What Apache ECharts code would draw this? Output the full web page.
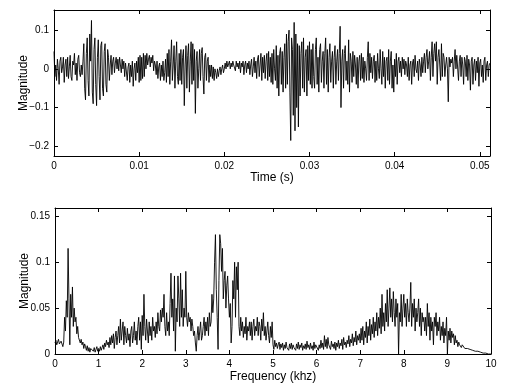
<!DOCTYPE html>
<html>
<head>
<meta charset="utf-8">
<script src="https://cdn.jsdelivr.net/npm/echarts@6/dist/echarts.min.js"></script>
<style>
    html, body { margin: 0; padding: 0; background: #fff; }
    #main { width: 506px; height: 384px; }
</style>
</head>
<body>
<div id="main"></div>
<script>
    // 时域信号, 采样间隔 0.0001 s
    var timeStep = 0.0001;
    var signal = [
        0.045, -0.02, 0.01, -0.03, 0.025, 0.0, -0.04, 0.02, 0.03, -0.01, 0.005, 0.03, -0.035, 0.01, 0.025, -0.02,
        0.03, -0.025, 0.005, 0.035, -0.02, -0.03, 0.02, 0.01, 0.04, -0.015, 0.015, -0.03, 0.025, 0.035, -0.01, -0.02,
        0.01, -0.015, 0.02, 0.065, -0.05, -0.08, 0.04, 0.08, -0.03, -0.07, 0.09, 0.02, 0.125, -0.06, -0.09, 0.05,
        0.08, -0.04, -0.095, 0.03, 0.075, -0.02, -0.08, 0.06, 0.07, -0.05, -0.07, 0.045, 0.065, -0.04, -0.06, 0.05,
        0.03, -0.03, 0.01, 0.035, -0.015, 0.02, 0.03, -0.01, 0.015, 0.03, 0.0, 0.025, -0.005, 0.03, 0.01, -0.01,
        0.025, 0.0, 0.02, -0.02, 0.015, 0.02, -0.03, 0.005, 0.015, -0.035, 0.01, -0.02, 0.02, -0.045, 0.0, 0.015,
        -0.03, 0.02, -0.01, 0.03, -0.035, 0.035, -0.03, 0.03, -0.025, 0.04, -0.02, 0.035, 0.0, 0.04, 0.01, 0.025,
        0.035, 0.005, 0.03, 0.015, 0.035, -0.005, 0.02, 0.01, -0.015, 0.02, -0.025, 0.005, 0.015, -0.03, 0.01, -0.02,
        0.02, -0.03, -0.01, 0.025, -0.035, 0.04, -0.02, 0.05, -0.04, 0.02, 0.075, -0.03, 0.01, 0.06, -0.05, 0.02,
        0.07, -0.02, -0.04, 0.04, -0.03, 0.05, -0.04, 0.03, 0.05, -0.095, 0.01, 0.06, -0.05, 0.035, 0.065, -0.06,
        0.02, 0.07, -0.04, 0.065, -0.03, 0.05, -0.115, 0.02, 0.045, -0.05, 0.0, 0.05, -0.03, 0.04, 0.055, -0.02,
        -0.065, 0.03, 0.04, -0.03, 0.02, 0.03, -0.035, 0.01, -0.02, 0.01, -0.025, 0.005, -0.03, 0.0, -0.01, -0.025,
        0.0, -0.02, -0.005, 0.005, -0.015, 0.0, 0.01, -0.01, 0.0, 0.015, 0.0, 0.02, 0.005, 0.01, 0.02, 0.0,
        0.015, 0.005, 0.02, 0.01, 0.015, -0.005, 0.02, 0.005, 0.015, 0.0, 0.02, -0.01, 0.015, 0.005, 0.02, -0.015,
        0.01, 0.02, -0.01, 0.015, 0.0, 0.02, -0.015, 0.01, 0.025, -0.02, 0.005, 0.03, -0.01, 0.02, -0.025, 0.025,
        0.035, -0.02, 0.01, 0.04, -0.03, 0.03, -0.01, 0.035, -0.025, 0.02, 0.04, -0.03, 0.045, -0.02, 0.03, -0.035,
        0.04, -0.04, 0.05, 0.0, -0.03, 0.06, -0.05, 0.035, -0.07, 0.04, 0.055, -0.04, 0.045, -0.06, 0.03, 0.065,
        -0.05, 0.09, -0.04, 0.07, 0.1, -0.06, -0.185, 0.08, 0.05, -0.12, 0.12, -0.16, 0.09, -0.1, 0.065, -0.15,
        0.06, -0.07, 0.04, 0.07, -0.05, 0.08, -0.06, 0.03, 0.05, -0.07, 0.06, -0.03, 0.07, -0.04, 0.05, -0.05,
        0.065, -0.02, -0.05, 0.05, 0.08, -0.04, 0.03, -0.06, 0.05, 0.065, -0.035, 0.02, 0.045, -0.05, 0.04, 0.08,
        -0.04, 0.05, -0.06, 0.03, 0.065, -0.035, 0.02, 0.045, -0.05, 0.03, 0.06, -0.04, 0.02, 0.05, -0.03, 0.04,
        0.11, -0.1, 0.02, 0.05, -0.05, 0.04, 0.06, -0.03, 0.02, -0.04, 0.075, -0.06, 0.04, 0.02, -0.035, 0.045,
        -0.02, 0.035, 0.01, -0.04, 0.03, -0.05, 0.02, 0.035, -0.03, 0.04, -0.025, 0.03, -0.035, 0.02, 0.0, -0.03,
        0.03, 0.07, -0.03, 0.04, -0.01, 0.03, -0.025, 0.02, 0.035, -0.035, 0.02, -0.03, 0.04, 0.0, -0.025, 0.05,
        0.0, -0.04, 0.045, -0.02, 0.03, -0.05, 0.02, 0.03, -0.03, 0.05, -0.04, 0.02, 0.045, -0.05, 0.01, -0.06,
        0.025, -0.02, 0.04, -0.04, 0.02, 0.03, -0.01, 0.02, -0.02, 0.03, 0.0, 0.025, -0.015, 0.02, 0.01, -0.02,
        0.03, -0.03, 0.01, 0.02, -0.04, 0.015, 0.025, -0.02, 0.035, 0.0, -0.01, 0.02, -0.03, 0.025, 0.01, -0.02,
        0.03, -0.01, 0.02, 0.04, -0.01, 0.03, 0.05, 0.0, 0.02, 0.045, -0.03, 0.03, 0.07, -0.02, 0.04, 0.065,
        0.02, 0.07, -0.04, 0.03, 0.05, 0.01, -0.03, 0.065, -0.02, 0.04, 0.03, -0.02, 0.01, 0.03, 0.0, -0.085,
        0.03, 0.005, 0.025, 0.015, 0.03, -0.02, 0.02, 0.05, 0.0, 0.035, 0.04, -0.03, 0.02, 0.035, -0.02, 0.03,
        0.01, -0.04, 0.03, 0.02, -0.02, 0.035, -0.03, 0.025, 0.01, -0.055, 0.02, 0.03, -0.04, 0.01, 0.025, -0.03,
        0.02, -0.01, 0.03, -0.045, 0.015, 0.025, -0.02, 0.01, -0.035, 0.02, 0.03, -0.03, 0.01, 0.02, -0.02, 0.01,
        0.015
    ];

    // 频谱, 频率间隔 0.02 khz
    var freqStep = 0.02;
    var spectrum = [
        0.012, 0.015, 0.01, 0.013, 0.016, 0.011, 0.009, 0.014, 0.012, 0.008, 0.013, 0.04, 0.025, 0.058, 0.04, 0.115, 0.06, 0.01, 0.065, 0.04, 0.073, 0.03, 0.05, 0.035, 0.04,
        0.022, 0.03, 0.018, 0.02, 0.012, 0.016, 0.01, 0.013, 0.006, 0.011, 0.008, 0.004, 0.009, 0.003, 0.007, 0.002, 0.006, 0.004, 0.008, 0.003, 0.007, 0.002, 0.005, 0.008, 0.003,
        0.006, 0.003, 0.008, 0.004, 0.007, 0.01, 0.005, 0.012, 0.008, 0.015, 0.01, 0.013, 0.007, 0.018, 0.01, 0.02, 0.012, 0.022, 0.006, 0.018, 0.025, 0.01, 0.02, 0.03, 0.012,
        0.038, 0.015, 0.025, 0.035, 0.01, 0.03, 0.02, 0.012, 0.028, 0.015, 0.022, 0.008, 0.025, 0.03, 0.012, 0.02, 0.035, 0.015, 0.025, 0.01, 0.03, 0.04, 0.015, 0.035, 0.005,
        0.042, 0.02, 0.065, 0.03, 0.015, 0.038, 0.025, 0.012, 0.035, 0.02, 0.03, 0.015, 0.04, 0.025, 0.03, 0.018, 0.035, 0.022, 0.045, 0.03, 0.025, 0.048, 0.035, 0.05, 0.04,
        0.065, 0.03, 0.02, 0.045, 0.025, 0.035, 0.02, 0.055, 0.088, 0.04, 0.06, 0.025, 0.085, 0.003, 0.05, 0.035, 0.085, 0.06, 0.03, 0.088, 0.04, 0.07, 0.03, 0.05, 0.04,
        0.09, 0.04, 0.03, 0.045, 0.035, 0.04, 0.025, 0.038, 0.03, 0.02, 0.025, 0.012, 0.003, 0.02, 0.03, 0.015, 0.025, 0.035, 0.015, 0.02, 0.03, 0.04, 0.02, 0.035, 0.025,
        0.04, 0.02, 0.045, 0.03, 0.035, 0.065, 0.045, 0.06, 0.1, 0.13, 0.07, 0.04, 0.005, 0.08, 0.13, 0.12, 0.09, 0.115, 0.06, 0.08, 0.09, 0.05, 0.075, 0.085, 0.06,
        0.04, 0.055, 0.012, 0.03, 0.08, 0.06, 0.1, 0.04, 0.095, 0.07, 0.1, 0.03, 0.02, 0.04, 0.025, 0.035, 0.018, 0.03, 0.022, 0.04, 0.015, 0.03, 0.025, 0.035, 0.02,
        0.035, 0.015, 0.03, 0.038, 0.02, 0.03, 0.025, 0.04, 0.02, 0.035, 0.03, 0.015, 0.038, 0.025, 0.045, 0.02, 0.03, 0.015, 0.025, 0.035, 0.02, 0.012, 0.03, 0.018, 0.035,
        0.01, 0.005, 0.015, 0.008, 0.012, 0.006, 0.01, 0.013, 0.005, 0.011, 0.007, 0.012, 0.004, 0.01, 0.006, 0.013, 0.007, 0.009, 0.004, 0.011, 0.006, 0.012, 0.005, 0.01, 0.007,
        0.009, 0.004, 0.011, 0.006, 0.013, 0.005, 0.01, 0.007, 0.012, 0.004, 0.009, 0.006, 0.011, 0.005, 0.014, 0.007, 0.01, 0.005, 0.012, 0.006, 0.009, 0.004, 0.013, 0.006, 0.01,
        0.008, 0.012, 0.004, 0.01, 0.006, 0.015, 0.007, 0.012, 0.005, 0.02, 0.008, 0.016, 0.006, 0.018, 0.01, 0.012, 0.005, 0.014, 0.008, 0.011, 0.006, 0.013, 0.004, 0.012, 0.008,
        0.015, 0.006, 0.012, 0.009, 0.016, 0.005, 0.018, 0.01, 0.013, 0.007, 0.015, 0.011, 0.02, 0.008, 0.016, 0.012, 0.022, 0.009, 0.018, 0.013, 0.025, 0.01, 0.02, 0.015, 0.022,
        0.012, 0.028, 0.015, 0.03, 0.01, 0.025, 0.018, 0.035, 0.012, 0.03, 0.02, 0.038, 0.015, 0.032, 0.022, 0.04, 0.018, 0.035, 0.025, 0.045, 0.02, 0.04, 0.028, 0.05, 0.022,
        0.065, 0.03, 0.045, 0.025, 0.055, 0.035, 0.07, 0.03, 0.05, 0.072, 0.04, 0.06, 0.035, 0.068, 0.045, 0.03, 0.06, 0.04, 0.055, 0.0, 0.045, 0.035, 0.065, 0.03, 0.05,
        0.065, 0.04, 0.055, 0.03, 0.06, 0.045, 0.035, 0.05, 0.078, 0.03, 0.055, 0.04, 0.06, 0.025, 0.05, 0.035, 0.045, 0.06, 0.03, 0.05, 0.02, 0.045, 0.035, 0.04, 0.025,
        0.04, 0.02, 0.055, 0.03, 0.045, 0.015, 0.04, 0.025, 0.035, 0.01, 0.04, 0.03, 0.045, 0.02, 0.035, 0.025, 0.04, 0.015, 0.03, 0.02, 0.035, 0.012, 0.028, 0.02, 0.04,
        0.0, 0.025, 0.015, 0.028, 0.012, 0.025, 0.018, 0.022, 0.01, 0.02, 0.012, 0.015, 0.008, 0.013, 0.01, 0.012, 0.007, 0.01, 0.008, 0.009, 0.006, 0.008, 0.007, 0.006, 0.005,
        0.006, 0.005, 0.004, 0.005, 0.004, 0.003, 0.004, 0.003, 0.003, 0.002, 0.003, 0.002, 0.002, 0.002, 0.001, 0.002, 0.001, 0.001, 0.001, 0.001, 0.0, 0.001, 0.0, 0.0, 0.0,
        0.0
    ];

    var timeTicks = [0, 0.01, 0.02, 0.03, 0.04, 0.05];
    var magTicks = [-0.2, -0.1, 0, 0.1];
    var specTicks = [0, 0.05, 0.1, 0.15];

    var font = 'Liberation Sans, Arial, sans-serif';
    var black = '#000';

    var signalData = signal.map(function (v, i) { return [+(i * timeStep).toFixed(4), v]; });
    var spectrumData = spectrum.map(function (v, i) { return [+(i * freqStep).toFixed(2), v]; });

    function fmt(v) { return String(v).replace('-', '\u2212'); }

    // 坐标轴 (刻度朝内, 四边框)
    function axis(grid, pos, min, max, ticks, showLabel, extra) {
        var a = {
            type: 'value', gridIndex: grid, position: pos, min: min, max: max,
            splitLine: { show: false },
            axisLine: { show: true, onZero: false, lineStyle: { color: black, width: 1 } },
            axisTick: { show: true, inside: true, length: 4, lineStyle: { color: black } },
            axisLabel: { show: showLabel, color: black, fontFamily: font, fontSize: 10, margin: 5, formatter: fmt }
        };
        if (ticks) {
            a.axisTick.customValues = ticks;
            a.axisLabel.customValues = ticks;
        }
        for (var k in extra) a[k] = extra[k];
        return a;
    }

    var nameStyle = { color: black, fontFamily: font, fontSize: 12 };

    var chart = echarts.init(document.getElementById('main'));
    chart.setOption({
        backgroundColor: '#fff',
        animation: false,
        grid: [
            { left: 54, right: 16, top: 10, height: 146 },
            { left: 55, right: 15, top: 208, height: 146 }
        ],
        xAxis: [
            axis(0, 'bottom', 0, 0.0512, timeTicks, true, { name: 'Time (s)', nameLocation: 'middle', nameGap: 16, nameMoveOverlap: false, nameTextStyle: nameStyle }),
            axis(0, 'top', 0, 0.0512, timeTicks, false, {}),
            axis(1, 'bottom', 0, 10, null, true, { interval: 1, name: 'Frequency (khz)', nameLocation: 'middle', nameGap: 17, nameMoveOverlap: false, nameTextStyle: nameStyle }),
            axis(1, 'top', 0, 10, null, false, { interval: 1 })
        ],
        yAxis: [
            axis(0, 'left', -0.225, 0.152, magTicks, true, { name: 'Magnitude', nameLocation: 'middle', nameGap: 24, nameMoveOverlap: false, nameTextStyle: nameStyle }),
            axis(0, 'right', -0.225, 0.152, magTicks, false, {}),
            axis(1, 'left', 0, 0.159, specTicks, true, { name: 'Magnitude', nameLocation: 'middle', nameGap: 24, nameMoveOverlap: false, nameTextStyle: nameStyle }),
            axis(1, 'right', 0, 0.159, specTicks, false, {})
        ],
        series: [
            {
                type: 'line', xAxisIndex: 0, yAxisIndex: 0, data: signalData,
                showSymbol: false, lineStyle: { color: black, width: 0.9 }
            },
            {
                type: 'line', xAxisIndex: 2, yAxisIndex: 2, data: spectrumData,
                showSymbol: false, lineStyle: { color: black, width: 0.9 }
            }
        ]
    });
</script>
</body>
</html>
